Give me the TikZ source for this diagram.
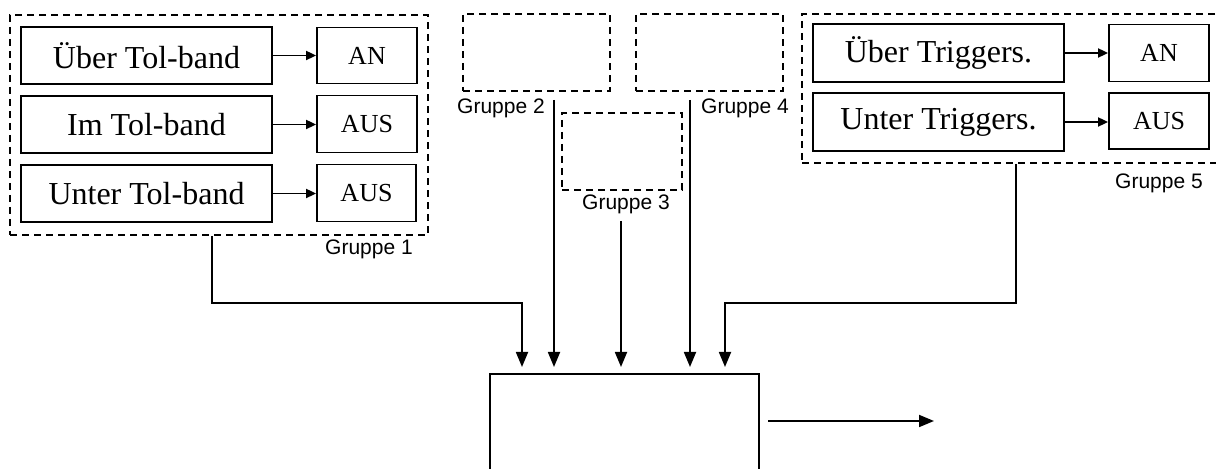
\documentclass[tikz,border=0pt]{standalone}
\usepackage{fontspec}
\setmainfont{Liberation Serif}
\newfontfamily\arialf{Liberation Sans}
\usetikzlibrary{arrows.meta}
\begin{document}
\begin{tikzpicture}[x=0.5pt,y=-0.5pt,
  box/.style={draw,line width=0.9pt,inner sep=0pt,font=\fontsize{16}{19}\selectfont},
  outbox/.style={draw,line width=0.9pt,inner sep=0pt,font=\fontsize{13}{15}\selectfont},
  grp/.style={draw,line width=0.9pt,dash pattern=on 3.5pt off 2.5pt,inner sep=0pt},
  glabel/.style={font=\arialf\fontsize{10.5}{12}\selectfont,inner sep=0pt},
  small/.style={line width=0.9pt,-{Triangle[length=5pt,width=4.5pt]}},
  conn/.style={line width=0.9pt,-{Triangle[length=7.5pt,width=6pt]}}]
\clip (0,0) rectangle (1216,469);
\useasboundingbox (0,0) rectangle (1216,469);
% Gruppe 1
\node[grp,minimum width=209pt,minimum height=110pt] (g1) at (219,125) {};
\node[glabel] (l1) at (369,249) {Gruppe 1};
\node[box,minimum width=125.5pt,minimum height=28.5pt] (b1) at (146.5,55.5) {Über Tol-band};
\node[box,minimum width=125.5pt,minimum height=28.5pt] (b2) at (146.5,124.5) {Im Tol-band};
\node[box,minimum width=125.5pt,minimum height=28.5pt] (b3) at (146.5,193.5) {Unter Tol-band};
\node[outbox,minimum width=50pt,minimum height=28pt] (o1) at (367,55.5) {AN};
\node[outbox,minimum width=50pt,minimum height=28.5pt] (o2) at (367,124) {AUS};
\node[outbox,minimum width=49.5pt,minimum height=28.5pt] (o3) at (366.5,193) {AUS};
\draw[small] (b1.east) -- (b1.east -| o1.west);
\draw[small] (b2.east) -- (b2.east -| o2.west);
\draw[small] (b3.east) -- (b3.east -| o3.west);
% Gruppe 2,3,4
\node[grp,minimum width=73.5pt,minimum height=38.5pt] (g2) at (536.5,52.5) {};
\node[glabel] (l2) at (501,108) {Gruppe 2};
\node[grp,minimum width=60pt,minimum height=38.5pt] (g3) at (622,151.5) {};
\node[glabel] (l3) at (626,204) {Gruppe 3};
\node[grp,minimum width=73.5pt,minimum height=38.5pt] (g4) at (709.5,52.5) {};
\node[glabel] (l4) at (745,108) {Gruppe 4};
% Gruppe 5
\node[grp,minimum width=225pt,minimum height=74.5pt] (g5) at (1027,88.5) {};
\node[glabel] (l5) at (1159,183) {Gruppe 5};
\node[box,minimum width=125.5pt,minimum height=29pt] (t1) at (938.5,53) {Über Triggers.};
\node[box,minimum width=125.5pt,minimum height=29pt] (t2) at (938.5,122) {Unter Triggers.};
\node[outbox,minimum width=50pt,minimum height=28.5pt] (p1) at (1159,53) {AN};
\node[outbox,minimum width=50pt,minimum height=28pt] (p2) at (1159,121) {AUS};
\draw[small] (t1.east) -- (t1.east -| p1.west);
\draw[small] (t2.east) -- (t2.east -| p2.west);
% main block
\node[draw,line width=0.9pt,minimum width=134.5pt,minimum height=58pt,inner sep=0pt] (main) at (624.5,432) {};
\coordinate (in1) at (522,367);
\coordinate (in2) at (554,367);
\coordinate (in3) at (621,367);
\coordinate (in4) at (690,367);
\coordinate (in5) at (725,367);
\draw[conn] (g1.south -| 212,0) |- (in1 |- 0,303) -- (in1);
\draw[conn] (in2 |- 0,100) -- (in2);
\draw[conn] (in3 |- 0,221) -- (in3);
\draw[conn] (in4 |- 0,100) -- (in4);
\draw[conn] (g5.south -| 1016,0) |- (in5 |- 0,303) -- (in5);
\coordinate (q1) at (768,421);
\coordinate (q2) at (934,421);
\draw[conn] (q1) -- (q2);
\end{tikzpicture}
\end{document}
